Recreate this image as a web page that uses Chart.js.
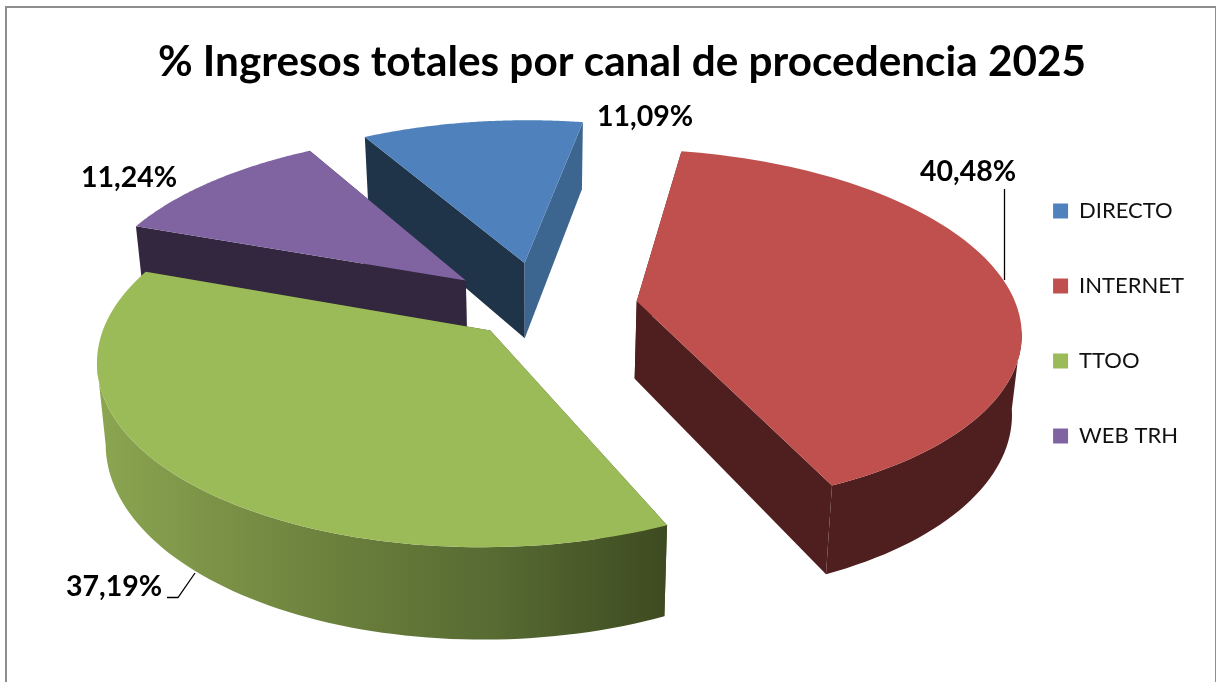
<!DOCTYPE html>
<html>
<head>
<meta charset="utf-8">
<title>Ingresos por canal</title>
<script src="https://cdn.jsdelivr.net/npm/chart.js@4/dist/chart.umd.min.js"></script>
<style>
  html, body { margin: 0; padding: 0; background: #fff; overflow: hidden; }
  #frame { position: absolute; left: 5px; top: 6px; width: 1208px; height: 690px; border: 2px solid #8e8e8e; }
  #wrap { position: absolute; left: 0; top: 0; width: 1216px; height: 682px; }
</style>
</head>
<body>
<div id="frame"></div>
<div id="wrap"><canvas id="pieChart"></canvas></div>
<script>
const chartTitle = '% Ingresos totales por canal de procedencia 2025';
const channels = ['DIRECTO', 'INTERNET', 'TTOO', 'WEB TRH'];
const shares = [11.09, 40.48, 37.19, 11.24];

// pull-out of each slice, in pixels
const explode = [100, 104, 68, 91];
const sideShift = [7, 0, 3.5, 0];
const topColors = ['#4F81BD', '#C0504D', '#9BBB59', '#8064A2'];
const startWall = ['#1F3349', '#4E1F1E', '#3D4A20', '#33263F'];
const endWall = ['#3C6590', '#4E1F1E', '#3D4A20', '#33263F'];
const rimColors = ['#3C6590', '#4E1F1E', null, '#33263F'];
const drawOrder = [0, 3, 1, 2];

// where the value labels sit, and their leader lines
const labelSpots = [[597, 117], [920, 172], [66, 587], [81, 178]];
const leaders = [null, [[1004.5, 189], [1004.5, 280]], [[167, 597.5], [178, 597.5], [195, 573]], null];

// fake 3d view
const view = { cx: 534, cy: 307, squash: 0.464, persp: 0.15, depth: 78, depthPersp: 0.9, shrink: 0.98 };

function project(arc, theta, r, i) {
  const R = arc.outerRadius;
  const mid = (arc.startAngle + arc.endAngle) / 2 + Math.PI / 2;
  const e = arc.options.offset / R;
  const X = e * Math.sin(mid) + r * Math.sin(theta);
  const Y = e * Math.cos(mid) + r * Math.cos(theta);
  const s = 1 / (1 + view.persp * Y);
  return { x: view.cx + sideShift[i] + R * X * s, y: view.cy - R * view.squash * Y * s, s: s };
}

function lower(p) {
  return {
    x: view.cx + (p.x - view.cx) * view.shrink,
    y: p.y + view.depth * (1 + (p.s - 1) * view.depthPersp)
  };
}

function fillPoly(ctx, pts, color) {
  ctx.beginPath();
  pts.forEach((p, i) => i ? ctx.lineTo(p.x, p.y) : ctx.moveTo(p.x, p.y));
  ctx.closePath();
  ctx.fillStyle = color;
  ctx.fill();
}

function rimPoints(arc, a0, a1, idx) {
  const pts = [];
  for (let i = 0; i <= 90; i++) {
    const p = project(arc, a0 + (a1 - a0) * i / 90, 1, idx);
    p.front = Math.cos(a0 + (a1 - a0) * i / 90) < -view.persp;
    pts.push(p);
  }
  return pts;
}

const pie3d = {
  id: 'pie3d',
  beforeDatasetsDraw(chart) {
    const ctx = chart.ctx;
    const arcs = chart.getDatasetMeta(0).data;
    drawOrder.forEach(i => {
      const arc = arcs[i];
      const a0 = arc.startAngle + Math.PI / 2;
      const a1 = arc.endAngle + Math.PI / 2;
      const apex = project(arc, 0, 0, i);
      const rim = rimPoints(arc, a0, a1, i);
      const first = rim[0];
      const last = rim[rim.length - 1];

      fillPoly(ctx, [apex, first, lower(first), lower(apex)], startWall[i]);
      fillPoly(ctx, [apex, last, lower(last), lower(apex)], endWall[i]);

      // only the part of the drum that faces the viewer
      const front = rim.filter(p => p.front);
      if (front.length) {
        let rimFill = rimColors[i];
        if (!rimFill) {
          rimFill = ctx.createLinearGradient(100, 0, 670, 0);
          rimFill.addColorStop(0, '#8BA551');
          rimFill.addColorStop(0.35, '#70853F');
          rimFill.addColorStop(0.7, '#566A32');
          rimFill.addColorStop(1, '#3D4A20');
        }
        fillPoly(ctx, front.concat(front.map(lower).reverse()), rimFill);
      }
      fillPoly(ctx, [apex].concat(rim), topColors[i]);
    });
    return false;
  },
  afterDraw(chart) {
    const ctx = chart.ctx;
    ctx.save();
    ctx.strokeStyle = '#000';
    ctx.lineWidth = 1.3;
    leaders.forEach(line => {
      if (!line) return;
      ctx.beginPath();
      line.forEach((p, i) => i ? ctx.lineTo(p[0], p[1]) : ctx.moveTo(p[0], p[1]));
      ctx.stroke();
    });
    ctx.fillStyle = '#000';
    ctx.font = 'bold 28.5px Lato';
    ctx.textBaseline = 'middle';
    shares.forEach((v, i) => {
      ctx.fillText(v.toFixed(2).replace('.', ',') + '%', labelSpots[i][0], labelSpots[i][1]);
    });
    ctx.restore();
  }
};

new Chart(document.getElementById('pieChart'), {
  type: 'pie',
  data: {
    labels: channels,
    datasets: [{
      data: shares,
      backgroundColor: topColors,
      offset: explode,
      borderWidth: 0
    }]
  },
  options: {
    responsive: true,
    maintainAspectRatio: false,
    animation: false,
    rotation: -29.8,
    radius: 380,
    layout: { padding: { left: 50, right: 22, bottom: 35 } },
    plugins: {
      title: {
        display: true,
        text: chartTitle,
        color: '#000',
        font: { family: 'Lato', size: 42.3, weight: 'bold' },
        padding: { top: 37, bottom: 20 }
      },
      legend: {
        position: 'right',
        labels: {
          boxWidth: 15,
          boxHeight: 15,
          padding: 53,
          color: '#111',
          font: { family: 'Lato', size: 22 }
        }
      },
      tooltip: { enabled: false }
    }
  },
  plugins: [pie3d]
});
</script>
</body>
</html>
